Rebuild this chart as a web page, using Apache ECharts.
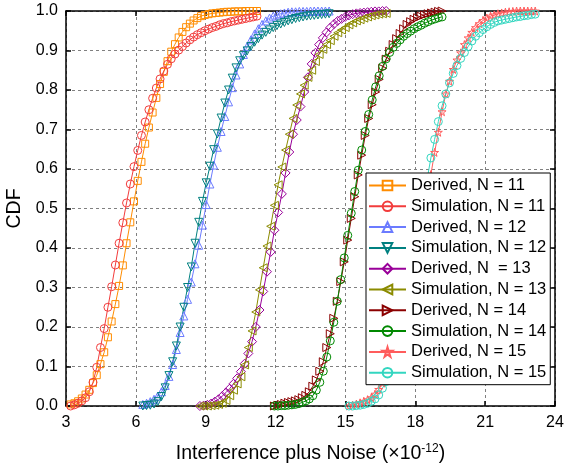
<!DOCTYPE html>
<html><head><meta charset="utf-8">
<script src="https://cdn.jsdelivr.net/npm/echarts@6/dist/echarts.min.js"></script>
<style>html,body{margin:0;padding:0;background:#fff}#c{width:565px;height:470px}</style>
</head><body><div id="c"></div>
<script>
// x tick values
const xTicks = [3, 6, 9, 12, 15, 18, 21, 24];
const yTicks = [0, 0.1, 0.2, 0.3, 0.4, 0.5, 0.6, 0.7, 0.8, 0.9, 1.0];

const xs11 = [3.2,3.36,3.52,3.68,3.84,4,4.16,4.32,4.48,4.64,4.8,4.96,5.12,5.28,5.44,5.6,5.76,5.92,6.08,6.24,6.4,6.56,6.72,6.88,7.04,7.2,7.36,7.52,7.68,7.84,8,8.16,8.32,8.48,8.64,8.8,8.96,9.12,9.28,9.44,9.6,9.76,9.92,10.08,10.24,10.4,10.56,10.72,10.88,11.04,11.2];
const d11 = [0.004,0.007,0.012,0.019,0.029,0.041,0.058,0.078,0.106,0.136,0.174,0.214,0.258,0.304,0.356,0.412,0.465,0.518,0.570,0.618,0.664,0.705,0.743,0.780,0.815,0.846,0.873,0.897,0.916,0.933,0.947,0.959,0.968,0.976,0.982,0.987,0.990,0.992,0.994,0.995,0.996,0.997,0.998,0.998,0.999,0.999,0.999,1,1,1,1];
const s11 = [0,0.003,0.007,0.013,0.021,0.036,0.060,0.098,0.148,0.196,0.250,0.302,0.357,0.412,0.464,0.514,0.562,0.606,0.647,0.685,0.719,0.750,0.779,0.805,0.828,0.848,0.865,0.879,0.891,0.901,0.910,0.919,0.927,0.934,0.940,0.945,0.950,0.954,0.958,0.961,0.965,0.968,0.970,0.973,0.975,0.977,0.979,0.981,0.983,0.985,0.987];

const xs12 = [6.3,6.46,6.62,6.78,6.94,7.1,7.26,7.42,7.58,7.74,7.9,8.06,8.22,8.38,8.54,8.7,8.86,9.02,9.18,9.34,9.5,9.66,9.82,9.98,10.14,10.3,10.46,10.62,10.78,10.94,11.1,11.26,11.42,11.58,11.74,11.9,12.06,12.22,12.38,12.54,12.7,12.86,13.02,13.18,13.34,13.5,13.66,13.82,13.98,14.14,14.3];
const d12 = [0.004,0.007,0.011,0.017,0.025,0.036,0.052,0.075,0.105,0.143,0.186,0.228,0.270,0.314,0.360,0.407,0.458,0.510,0.562,0.610,0.655,0.695,0.733,0.770,0.806,0.838,0.866,0.890,0.910,0.927,0.942,0.955,0.966,0.975,0.982,0.987,0.990,0.993,0.995,0.997,0.998,0.998,0.999,0.999,0.999,1,1,1,1,1,1];
const s12 = [0,0.001,0.002,0.005,0.011,0.024,0.046,0.077,0.112,0.152,0.200,0.250,0.300,0.352,0.412,0.465,0.518,0.565,0.607,0.649,0.689,0.729,0.767,0.800,0.830,0.856,0.874,0.887,0.899,0.910,0.921,0.930,0.939,0.946,0.952,0.958,0.963,0.967,0.971,0.975,0.978,0.981,0.983,0.985,0.987,0.988,0.989,0.990,0.991,0.992,0.993];

const xs13 = [8.75,8.91,9.07,9.23,9.39,9.55,9.71,9.87,10.03,10.19,10.35,10.51,10.67,10.83,10.99,11.15,11.31,11.47,11.63,11.79,11.95,12.11,12.27,12.43,12.59,12.75,12.91,13.07,13.23,13.39,13.55,13.71,13.87,14.03,14.19,14.35,14.51,14.67,14.83,14.99,15.15,15.31,15.47,15.63,15.79,15.95,16.11,16.27,16.43,16.59,16.75];
const d13 = [0,0.001,0.003,0.006,0.011,0.017,0.025,0.034,0.044,0.056,0.070,0.087,0.107,0.133,0.163,0.200,0.243,0.290,0.340,0.390,0.445,0.490,0.537,0.590,0.643,0.688,0.724,0.758,0.795,0.832,0.866,0.894,0.915,0.932,0.946,0.958,0.967,0.975,0.980,0.985,0.989,0.992,0.994,0.995,0.996,0.997,0.998,0.999,0.999,1,1];
const s13 = [0,0,0,0.001,0.002,0.004,0.007,0.014,0.026,0.040,0.056,0.074,0.104,0.148,0.190,0.238,0.294,0.350,0.405,0.455,0.508,0.560,0.605,0.648,0.688,0.728,0.762,0.790,0.812,0.832,0.850,0.872,0.890,0.903,0.915,0.925,0.936,0.945,0.952,0.958,0.965,0.970,0.975,0.978,0.982,0.985,0.988,0.990,0.992,0.993,0.994];

const xs14 = [11.95,12.1,12.25,12.4,12.55,12.7,12.85,13,13.15,13.3,13.45,13.6,13.75,13.9,14.05,14.2,14.35,14.5,14.65,14.8,14.95,15.1,15.25,15.4,15.55,15.7,15.85,16,16.15,16.3,16.45,16.6,16.75,16.9,17.05,17.2,17.35,17.5,17.65,17.8,17.95,18.1,18.25,18.4,18.55,18.7,18.85,19,19.15];
const d14 = [0,0.002,0.004,0.007,0.009,0.011,0.013,0.016,0.021,0.027,0.036,0.050,0.066,0.088,0.112,0.148,0.183,0.222,0.265,0.315,0.365,0.420,0.475,0.530,0.585,0.635,0.685,0.728,0.763,0.795,0.827,0.855,0.878,0.898,0.915,0.930,0.943,0.955,0.966,0.973,0.979,0.983,0.987,0.990,0.993,0.995,0.997,0.999,1];
const s14 = [0,0,0.001,0.001,0.002,0.003,0.004,0.006,0.009,0.013,0.018,0.026,0.040,0.060,0.088,0.124,0.165,0.212,0.265,0.320,0.375,0.432,0.488,0.543,0.597,0.648,0.695,0.738,0.775,0.808,0.836,0.860,0.879,0.895,0.908,0.918,0.927,0.936,0.943,0.949,0.955,0.960,0.964,0.969,0.973,0.977,0.980,0.983,0.985];

const xs15 = [15.15,15.31,15.47,15.63,15.79,15.95,16.11,16.27,16.43,16.59,16.75,16.91,17.07,17.23,17.39,17.55,17.71,17.87,18.03,18.19,18.35,18.51,18.67,18.83,18.99,19.15,19.31,19.47,19.63,19.79,19.95,20.11,20.27,20.43,20.59,20.75,20.91,21.07,21.23,21.39,21.55,21.71,21.87,22.03,22.19,22.35,22.51,22.67,22.83,22.99,23.15];
const d15 = [0,0.002,0.005,0.008,0.012,0.016,0.021,0.030,0.042,0.058,0.075,0.095,0.120,0.150,0.185,0.225,0.268,0.315,0.365,0.420,0.475,0.530,0.586,0.642,0.693,0.745,0.790,0.822,0.852,0.876,0.894,0.915,0.932,0.946,0.958,0.968,0.976,0.982,0.987,0.990,0.993,0.995,0.997,0.998,0.999,1,1,1,1,1,1];
const s15 = [0,0,0.001,0.002,0.004,0.007,0.012,0.018,0.028,0.045,0.062,0.085,0.115,0.150,0.192,0.240,0.290,0.342,0.398,0.458,0.520,0.575,0.628,0.675,0.720,0.760,0.790,0.818,0.842,0.862,0.880,0.895,0.910,0.924,0.936,0.945,0.953,0.960,0.966,0.971,0.975,0.977,0.979,0.981,0.983,0.985,0.986,0.988,0.989,0.991,0.992];

const names = ['Derived, N = 11','Simulation, N = 11','Derived, N = 12','Simulation, N = 12','Derived, N  = 13','Simulation, N = 13','Derived, N = 14','Simulation, N = 14','Derived, N = 15','Simulation, N = 15'];

const FONT = '"Liberation Sans", Arial, Helvetica, sans-serif';
const STAR = 'path://M50,0 L61,35 L98,35 L68,57 L79,91 L50,70 L21,91 L32,57 L2,35 L39,35 Z';

function mk(name, xs, ys, color, symbol, rotate, size) {
  return {
    name: name, type: 'line',
    data: xs.map((x, i) => [x, ys[i]]),
    symbol: symbol, symbolRotate: rotate, symbolSize: size,
    showAllSymbol: true,
    lineStyle: { color: color, width: 1 },
    itemStyle: { color: 'rgba(255,255,255,0)', borderColor: color, borderWidth: 1 },
    emphasis: { disabled: true },
    animation: false
  };
}

const series = [
  mk(names[0], xs11, d11, '#ff8c00', 'rect', 0, 7),
  mk(names[1], xs11, s11, '#f23c3c', 'circle', 0, 8),
  mk(names[2], xs12, d12, '#6b7bff', 'triangle', 0, 8),
  mk(names[3], xs12, s12, '#008080', 'triangle', 180, 8),
  mk(names[4], xs13, d13, '#990099', 'diamond', 0, 9),
  mk(names[5], xs13, s13, '#8b8b00', 'triangle', 90, 8),
  mk(names[6], xs14, d14, '#8b0000', 'triangle', -90, 8),
  mk(names[7], xs14, s14, '#008800', 'circle', 0, 8),
  mk(names[8], xs15, d15, '#ff5c5c', STAR, 0, 8),
  mk(names[9], xs15, s15, '#33d6c0', 'circle', 0, 8)
];

const axisLineStyle = { color: '#000', width: 1.5 };
const gridLineStyle = { color: '#808080', type: [3, 3], width: 1 };

const option = {
  backgroundColor: '#fff',
  animation: false,
  grid: { left: 66, right: 10, top: 11, bottom: 64, containLabel: false, outerBoundsMode: 'none' },
  legend: {
    orient: 'vertical', left: 366, top: 173,
    data: names,
    itemWidth: 37, itemHeight: 12, itemGap: 3.8,
    padding: [4, 4, 3.5, 2],
    backgroundColor: '#fff', borderColor: '#000', borderWidth: 1,
    textStyle: { fontFamily: FONT, fontSize: 16.5, color: '#000', lineHeight: 15 },
    selectedMode: false
  },
  xAxis: [{
    type: 'value', min: xTicks[0], max: xTicks[xTicks.length - 1], interval: 3,
    position: 'bottom',
    axisLine: { show: true, onZero: false, lineStyle: axisLineStyle },
    axisTick: { show: true, inside: true, length: 5, lineStyle: axisLineStyle },
    axisLabel: { color: '#000', fontSize: 16, fontFamily: FONT, margin: 9 },
    splitLine: { show: true, lineStyle: gridLineStyle },
    name: 'Interference plus Noise (×10{sup|-12})',
    nameLocation: 'middle', nameGap: 37,
    nameTextStyle: {
      color: '#000', fontSize: 19.5, fontFamily: FONT,
      rich: { sup: { fontSize: 12, fontFamily: FONT, color: '#000', verticalAlign: 'top', padding: [0, 0, 9, 0] } }
    }
  }, {
    type: 'value', min: xTicks[0], max: xTicks[xTicks.length - 1], interval: 3,
    position: 'top',
    axisLine: { show: true, onZero: false, lineStyle: axisLineStyle },
    axisTick: { show: true, inside: true, length: 5, lineStyle: axisLineStyle },
    axisLabel: { show: false }, splitLine: { show: false }
  }],
  yAxis: [{
    type: 'value', min: yTicks[0], max: yTicks[yTicks.length - 1], interval: 0.1,
    position: 'left',
    axisLine: { show: true, onZero: false, lineStyle: axisLineStyle },
    axisTick: { show: true, inside: true, length: 5, lineStyle: axisLineStyle },
    axisLabel: { color: '#000', fontSize: 16, fontFamily: FONT, margin: 8, formatter: v => v.toFixed(1) },
    splitLine: { show: true, lineStyle: gridLineStyle },
    name: 'CDF', nameLocation: 'middle', nameGap: 35,
    nameTextStyle: { color: '#000', fontSize: 19.5, fontFamily: FONT }
  }, {
    type: 'value', min: yTicks[0], max: yTicks[yTicks.length - 1], interval: 0.1,
    position: 'right',
    axisLine: { show: true, onZero: false, lineStyle: axisLineStyle },
    axisTick: { show: true, inside: true, length: 5, lineStyle: axisLineStyle },
    axisLabel: { show: false }, splitLine: { show: false }
  }],
  series: series
};

const chart = echarts.init(document.getElementById('c'), null, { renderer: 'canvas' });
chart.setOption(option);
</script>
</body></html>
